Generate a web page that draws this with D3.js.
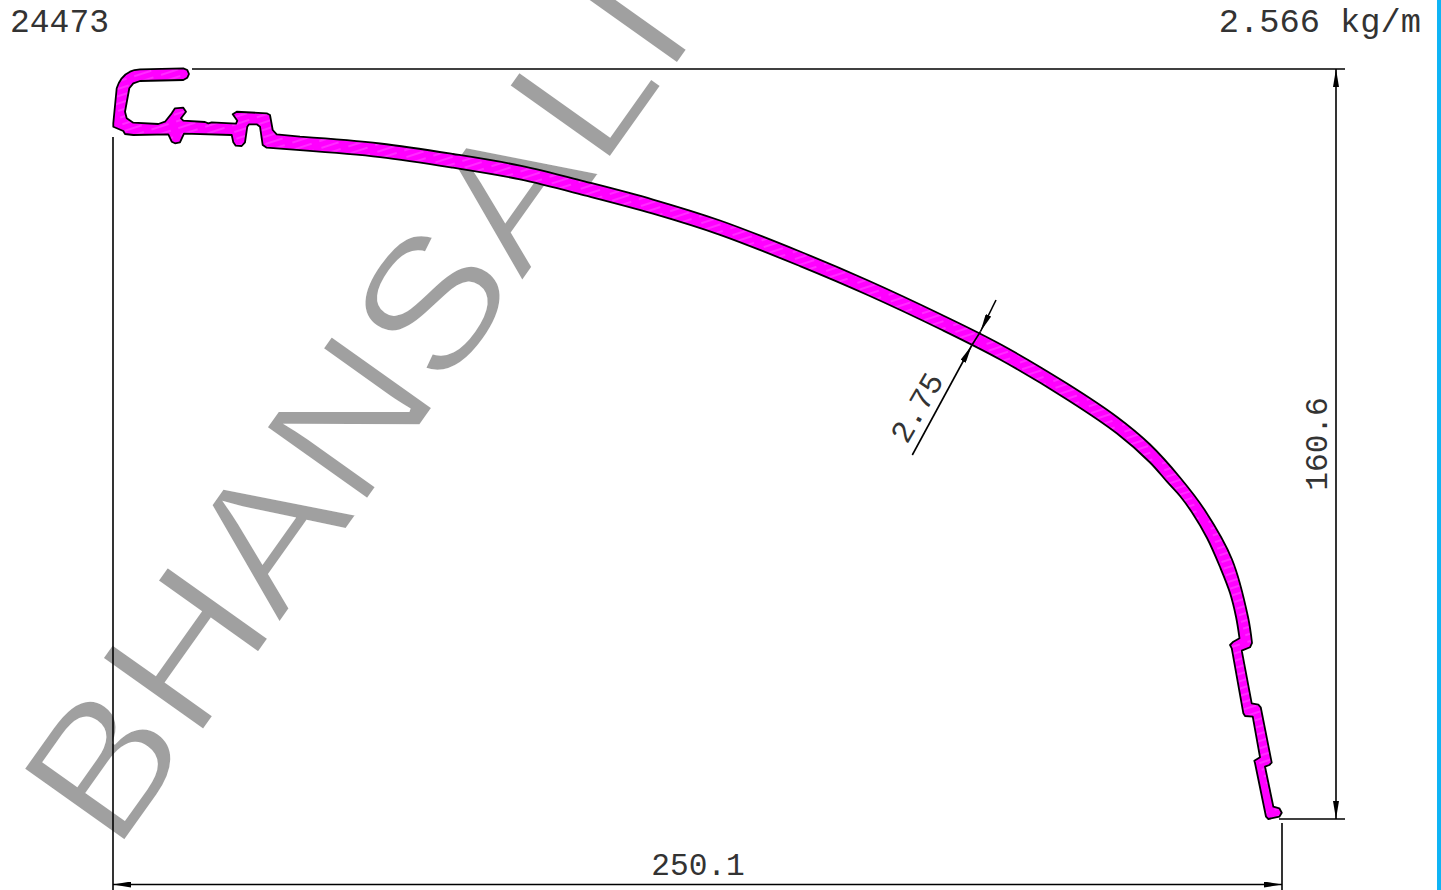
<!DOCTYPE html>
<html>
<head>
<meta charset="utf-8">
<script src="https://cdn.jsdelivr.net/npm/d3@7"></script>
<style>
  html, body { margin: 0; padding: 0; background: #fff; overflow: hidden; }
  text { font-family: "Liberation Mono", monospace; fill: #333; }
</style>
</head>
<body>
<div id="drawing"></div>
<script>
// Section outline, in mm (0,0 = lower left of the overall size)
// Walked clockwise: head top, outer arc, tail, inner arc, head underside
var headTopX = [5.78,15.04,15.90,16.26,15.90,15.04,5.78,4.34,3.49,2.57,2.93,4.34,9.69,11.13,12.56,13.26,15.04,15.62,14.55,15.04,
    19.68,20.39,21.12,26.32,26.59,25.61,26.47,32.88,33.59,34.17,35.02];
var headTopY = [160.53,160.75,160.38,159.53,158.73,158.24,158.03,157.53,156.47,151.45,150.04,149.10,148.82,149.31,151.11,152.18,152.31,151.45,150.04,149.53,
    149.25,148.97,149.18,148.89,149.53,150.90,151.45,151.11,150.75,147.54,146.61];

var outerArcX = [40.01,57.12,72.74,87.08,101.41,115.53,129.87,146.98,161.32,176.94,189.77,204.11,214.81,221.87,228.28,233.63,239.41,242.83,243.69];
var outerArcY = [146.10,144.65,142.40,139.91,136.40,132.65,128.16,121.52,115.42,108.14,101.71,93.25,86.08,80.19,73.13,66.06,55.57,43.25,37.69];

var tailX = [243.26,241.49,243.62,245.04,245.55,247.90,247.39,246.47,248.25,249.53,250.05,249.53,247.18,246.68,244.33,244.18,245.40,
    243.84,242.19,241.83,239.35,238.98,239.69];
var tailY = [36.77,36.04,24.77,24.48,23.92,12.06,11.56,11.20,2.63,2.29,1.35,0.49,0,0.49,11.93,12.48,13.21,
    21.91,22.06,22.63,36.55,37.26,37.96];

var innerArcX = [241.01,240.27,238.98,236.84,234.06,230.85,228.28,225.50,221.87,214.81,204.11,189.77,176.94,161.32,146.98,129.87,115.53,101.41,87.08,72.74,57.12,40.01];
var innerArcY = [38.69,43.25,48.39,53.96,60.17,65.63,69.16,72.23,76.34,82.55,89.85,98.39,104.92,112.26,118.39,125.09,129.63,133.42,136.96,139.46,141.73,143.21];

var headUnderX = [32.88,32.03,31.45,30.74,29.10,28.73,28.24,27.53,26.25,25.74,25.40,15.19,14.33,13.26,12.56,11.83,4.34,2.57,2.20,0.06,0.06,0.79,1.24,1.86,2.67,3.64,4.60];
var headUnderY = [143.75,144.32,148.24,148.76,148.76,148.24,144.90,144.11,144.18,144.90,146.47,146.75,144.90,144.69,145.03,146.61,146.47,146.68,147.32,148.24,148.97,156.47,157.60,158.61,159.42,160.02,160.38];

var overallWidth = 250.1;
var overallHeight = 160.6;
var wallThickness = 2.75;
var sectionNo = "24473";
var weightLabel = "2.566 kg/m";
var watermark = "BHANSALI";

var svgWidth = 1441;
var svgHeight = 890;

var svg = d3.select("#drawing")
    .append("svg")
        .attr("width", svgWidth)
        .attr("height", svgHeight)
        .style("display", "block");

var x = d3.scaleLinear().domain([0, overallWidth]).range([113, 1282]);
var y = d3.scaleLinear().domain([0, overallHeight]).range([819, 69]);

var defs = svg.append("defs");

// faint streaks inside the section fill
var hatch = defs.append("pattern")
    .attr("id", "hatch")
    .attr("patternUnits", "userSpaceOnUse")
    .attr("width", 26)
    .attr("height", 7)
    .attr("patternTransform", "rotate(-18)");
hatch.append("rect").attr("width", 26).attr("height", 7).attr("fill", "#ff00ff");
hatch.append("line")
    .attr("x1", 0).attr("x2", 18).attr("y1", 2).attr("y2", 2)
    .attr("stroke", "#ff55ff").attr("stroke-width", 1);

// arrow head, tip on the origin and pointing along +x
defs.append("marker")
    .attr("id", "arrow")
    .attr("viewBox", "-18 -3 18 6")
    .attr("refX", 0).attr("refY", 0)
    .attr("markerWidth", 18).attr("markerHeight", 6)
    .attr("markerUnits", "userSpaceOnUse")
    .attr("orient", "auto-start-reverse")
    .append("path")
        .attr("d", "M-18,-3L0,0L-18,3Z")
        .attr("fill", "#000");

// watermark goes under everything, the white stroke thins the letters down
svg.append("text")
    .attr("transform", "translate(115,855.6) rotate(-54.6) scale(1.12,1)")
    .attr("font-size", 182)
    .style("font-family", "'Liberation Sans', sans-serif")
    .style("fill", "#a0a0a0")
    .style("stroke", "#fff")
    .style("stroke-width", 3.5)
    .text(watermark);

// blue edge on the right of the page
svg.append("rect")
    .attr("x", 1437).attr("y", 0)
    .attr("width", 4).attr("height", svgHeight)
    .attr("fill", "#0fb4f5");

// the section: straight pieces for head and tail, splines for the two arcs
var straight = d3.line()
    .x(function(d) { return x(d[0]); })
    .y(function(d) { return y(d[1]); });
var smooth = d3.line()
    .x(function(d) { return x(d[0]); })
    .y(function(d) { return y(d[1]); })
    .curve(d3.curveCatmullRom.alpha(0.5));

var outlinePath = straight(d3.zip(headTopX, headTopY))
    + smooth(d3.zip(outerArcX, outerArcY)).replace("M", "L")
    + straight(d3.zip(tailX, tailY)).replace("M", "L")
    + smooth(d3.zip(innerArcX, innerArcY)).replace("M", "L")
    + straight(d3.zip(headUnderX, headUnderY)).replace("M", "L")
    + "Z";

svg.append("path")
    .attr("d", outlinePath)
    .attr("fill", "url(#hatch)")
    .attr("stroke", "#000")
    .attr("stroke-width", 1.8)
    .attr("stroke-linejoin", "round");

function thinLine(x1, y1, x2, y2) {
    return svg.append("line")
        .attr("x1", x1).attr("y1", y1)
        .attr("x2", x2).attr("y2", y2)
        .attr("stroke", "#000")
        .attr("stroke-width", 1.6);
}

// extension lines
thinLine(192, y(overallHeight), 1345, y(overallHeight));
thinLine(1279, y(0), 1345, y(0));
thinLine(x(0), 137, x(0), svgHeight);
thinLine(x(overallWidth), 823, x(overallWidth), svgHeight);

// overall size dimension lines
thinLine(1336, y(overallHeight), 1336, y(0))
    .attr("marker-start", "url(#arrow)")
    .attr("marker-end", "url(#arrow)");
thinLine(x(0), 884.5, x(overallWidth), 884.5)
    .attr("marker-start", "url(#arrow)")
    .attr("marker-end", "url(#arrow)");

// wall thickness leader
thinLine(912.3, 455, 971.7, 345.5).attr("marker-end", "url(#arrow)");
thinLine(996, 300, 980.5, 331.5).attr("marker-end", "url(#arrow)");
thinLine(971.7, 345.5, 980.5, 331.5);

svg.append("text")
    .attr("x", 10).attr("y", 32)
    .attr("font-size", 33)
    .text(sectionNo);

svg.append("text")
    .attr("x", 1421).attr("y", 32)
    .attr("text-anchor", "end")
    .attr("font-size", 33.7)
    .text(weightLabel);

svg.append("text")
    .attr("x", 698).attr("y", 875)
    .attr("text-anchor", "middle")
    .attr("font-size", 31.2)
    .text(overallWidth);

svg.append("text")
    .attr("transform", "translate(1327,444) rotate(-90)")
    .attr("text-anchor", "middle")
    .attr("font-size", 31.2)
    .text(overallHeight);

svg.append("text")
    .attr("transform", "translate(907,445) rotate(-60)")
    .attr("font-size", 31.2)
    .text(wallThickness);
</script>
</body>
</html>
